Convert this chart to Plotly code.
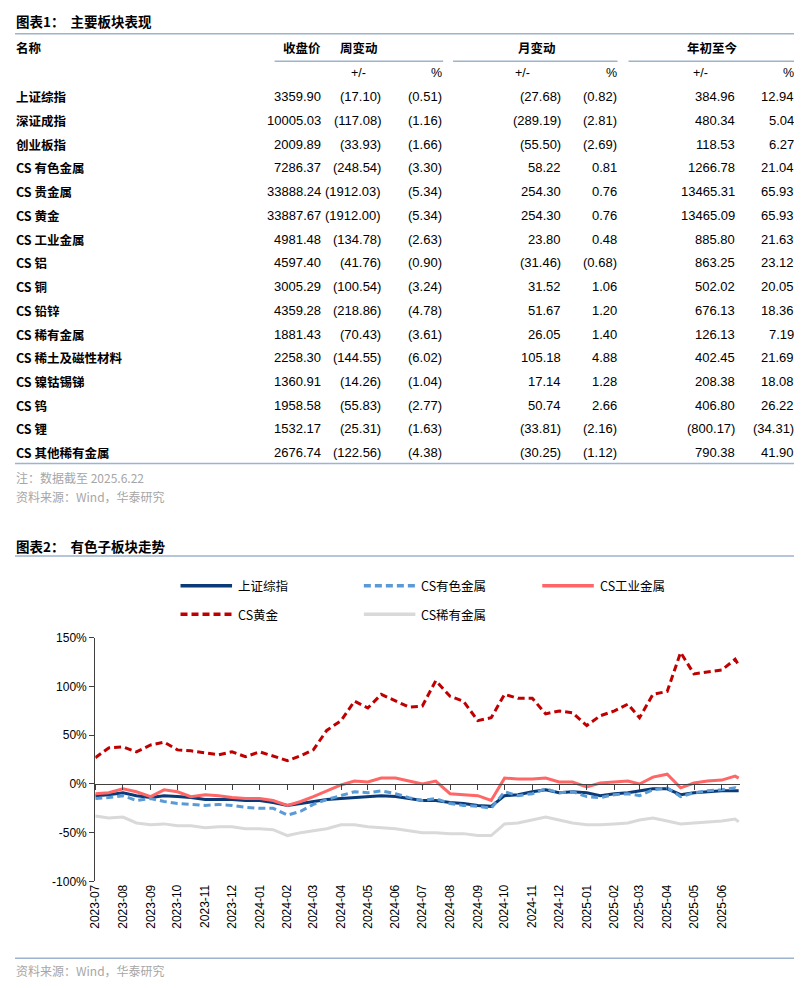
"""主要板块表现表格 + 有色子板块走势图 (Plotly)."""

import plotly.graph_objects as go

# 页面 body 默认 8px 边距, 图幅略缩以免溢出
FIG_W, FIG_H = 786, 972
OFF = 8

# ---- 表1 数据 ----
names = ["上证综指", "深证成指", "创业板指", "CS 有色金属", "CS 贵金属", "CS 黄金", "CS 工业金属",
         "CS 铝", "CS 铜", "CS 铅锌", "CS 稀有金属", "CS 稀土及磁性材料", "CS 镍钴锡锑",
         "CS 钨", "CS 锂", "CS 其他稀有金属"]
close = ["3359.90", "10005.03", "2009.89", "7286.37", "33888.24", "33887.67", "4981.48",
         "4597.40", "3005.29", "4359.28", "1881.43", "2258.30", "1360.91", "1958.58",
         "1532.17", "2676.74"]
wk_chg = ["(17.10)", "(117.08)", "(33.93)", "(248.54)", "(1912.03)", "(1912.00)", "(134.78)",
          "(41.76)", "(100.54)", "(218.86)", "(70.43)", "(144.55)", "(14.26)", "(55.83)",
          "(25.31)", "(122.56)"]
wk_pct = ["(0.51)", "(1.16)", "(1.66)", "(3.30)", "(5.34)", "(5.34)", "(2.63)", "(0.90)",
          "(3.24)", "(4.78)", "(3.61)", "(6.02)", "(1.04)", "(2.77)", "(1.63)", "(4.38)"]
mo_chg = ["(27.68)", "(289.19)", "(55.50)", "58.22", "254.30", "254.30", "23.80", "(31.46)",
          "31.52", "51.67", "26.05", "105.18", "17.14", "50.74", "(33.81)", "(30.25)"]
mo_pct = ["(0.82)", "(2.81)", "(2.69)", "0.81", "0.76", "0.76", "0.48", "(0.68)", "1.06",
          "1.20", "1.40", "4.88", "1.28", "2.66", "(2.16)", "(1.12)"]
ytd_chg = ["384.96", "480.34", "118.53", "1266.78", "13465.31", "13465.09", "885.80",
           "863.25", "502.02", "676.13", "126.13", "402.45", "208.38", "406.80", "(800.17)",
           "790.38"]
ytd_pct = ["12.94", "5.04", "6.27", "21.04", "65.93", "65.93", "21.63", "23.12", "20.05",
           "18.36", "7.19", "21.69", "18.08", "26.22", "(34.31)", "41.90"]

# ---- 图2 数据 (半月采样, 累计涨跌幅 %) ----
dates = []
for yr, mo in [(2023, m) for m in range(7, 13)] + [(2024, m) for m in range(1, 13)] + \
        [(2025, m) for m in range(1, 7)]:
    dates += [f"{yr}-{mo:02d}-01", f"{yr}-{mo:02d}-16"]
dates.append("2025-06-20")

sse = [-12, -11, -9, -12, -14, -12, -13, -14, -16, -16, -16, -17, -17, -19, -22, -20, -18, -16,
       -15, -14, -13, -12, -13, -15, -17, -17, -19, -20, -22, -23, -12, -11, -8, -6, -9, -8, -9,
       -12, -10, -9, -7, -5, -5, -11, -9, -8, -7, -7, -7]
nonferrous = [-15, -14, -12, -17, -15, -18, -20, -21, -22, -21, -22, -24, -25, -25, -32, -28, -21,
              -16, -12, -8, -9, -7, -10, -14, -17, -15, -20, -22, -23, -25, -8, -12, -10, -5, -9,
              -8, -13, -14, -11, -10, -12, -6, -4, -13, -9, -7, -6, -4, -6]
industrial = [-10, -9, -5, -8, -13, -6, -8, -13, -11, -12, -14, -15, -15, -17, -22, -18, -13, -7,
              -1, 3, 2, 6, 6, 3, 0, 3, -10, -11, -12, -17, 6, 5, 5, 6, 2, 2, -3, 1, 2, 3, 0, 7,
              10, -4, 1, 3, 4, 8, 6]
gold = [27, 37, 38, 33, 40, 43, 35, 34, 32, 30, 33, 28, 33, 29, 24, 29, 35, 55, 65, 85, 78, 92,
        85, 79, 80, 106, 90, 85, 65, 68, 92, 88, 88, 72, 75, 73, 60, 70, 75, 82, 68, 92, 95, 135,
        113, 115, 117, 128, 122]
rare = [-33, -35, -34, -40, -42, -41, -43, -43, -45, -44, -44, -46, -46, -47, -53, -50, -48, -46,
        -42, -42, -44, -45, -46, -48, -50, -50, -51, -51, -53, -53, -41, -40, -37, -34, -37, -40,
        -42, -42, -41, -40, -37, -35, -38, -41, -40, -39, -38, -36, -39]
series_names = ["上证综指", "CS有色金属", "CS工业金属", "CS黄金", "CS稀有金属"]
y_ticks = [-100, -50, 0, 50, 100, 150]

colors = ["#0B3A78", "#5B9BD5", "#FF6666", "#C00000", "#D9D9D9"]
dashes = ["solid", "7px,4px", "solid", "7px,4px", "solid"]

CJK = "Noto Sans CJK SC"
NUM = "Liberation Sans"
RULE = "#9DB3CE"


def px(x):
    return (x - OFF) / FIG_W


def py(y):
    return 1 - (y - OFF) / FIG_H


fig = go.Figure()
for name, vals, c, d in zip(series_names, [sse, nonferrous, industrial, gold, rare], colors, dashes):
    fig.add_trace(go.Scatter(x=dates, y=vals, mode="lines", name=name,
                             line=dict(color=c, width=3, dash=d), showlegend=False))

ann = []
shapes = []


def text(x, y, s, anchor="left", size=12.5, color="#000", bold=False, font=CJK):
    if bold:
        s = f"<b>{s}</b>"
    ann.append(dict(x=px(x), y=py(y), xref="paper", yref="paper", text=s, showarrow=False,
                    xanchor=anchor, yanchor="middle", borderpad=0,
                    font=dict(family=font, size=size, color=color)))


def hline(x0, x1, y, color=RULE, width=1.5):
    shapes.append(dict(type="line", xref="paper", yref="paper", x0=px(x0), x1=px(x1),
                       y0=py(y), y1=py(y), line=dict(color=color, width=width)))


# ---- 表1 ----
text(8, 14, "图表1：  主要板块表现", size=13.5, bold=True)
hline(8, 795, 27)
text(8, 41, "名称", bold=True)
text(318, 41, "收盘价", anchor="right", bold=True)
for cx, lab in [(355, "周变动"), (535, "月变动"), (712, "年初至今")]:
    text(cx, 41, lab, anchor="center", bold=True)
for x0, x1 in [(270, 440), (450, 616), (627, 795)]:
    hline(x0, x1, 55)
for cx, lab in [(355, "+/-"), (520, "+/-"), (700, "+/-")]:
    text(cx, 67, lab, anchor="center", font=NUM)
for rx in [440, 616, 795]:
    text(rx, 67, "%", anchor="right", font=NUM)

col_right = [318, 378, 440, 560, 616, 735, 795]
for i, nm in enumerate(names):
    y = 91 + i * 24.07
    if nm.startswith("CS "):
        text(8, y, "<b>CS</b> " + f"<b>{nm[3:]}</b>", font=CJK)
    else:
        text(8, y, nm, bold=True)
    for rx, col in zip(col_right, [close, wk_chg, wk_pct, mo_chg, mo_pct, ytd_chg, ytd_pct]):
        text(rx, y, col[i], anchor="right", font=NUM, size=13)
hline(8, 795, 463)
text(8, 477, "注：数据截至 2025.6.22", color="#A6A6A6", size=12)
text(8, 497, "资料来源：Wind，华泰研究", color="#A6A6A6", size=12)

# ---- 图2 ----
text(8, 547, "图表2：  有色子板块走势", size=13.5, bold=True)
hline(8, 795, 557)
legend_pos = [(175, 587), (360, 587), (540, 587), (175, 616), (360, 616)]
for (lx, ly), nm, c, d in zip(legend_pos, series_names, colors, dashes):
    shapes.append(dict(type="line", xref="paper", yref="paper", x0=px(lx), x1=px(lx + 52),
                       y0=py(ly), y1=py(ly), line=dict(color=c, width=3.5, dash=d)))
    text(lx + 57, ly, nm, size=12.5)
hline(8, 795, 965)
text(8, 977, "资料来源：Wind，华泰研究", color="#A6A6A6", size=12)

x_dom = [px(89), px(740)]
fig.update_layout(
    width=FIG_W, height=FIG_H, margin=dict(l=0, r=0, t=0, b=0),
    paper_bgcolor="white", plot_bgcolor="white",
    annotations=ann, shapes=shapes,
    xaxis=dict(domain=x_dom, range=["2023-07-01", "2025-06-22"],
               dtick="M1", tick0="2023-07-01", tickformat="%Y-%m", tickangle=-90,
               showgrid=False, showline=False, ticks="", zeroline=False,
               tickfont=dict(family=NUM, size=12, color="#000")),
    xaxis2=dict(domain=x_dom, range=["2023-07-01", "2025-06-22"], overlaying="x",
                anchor="free", position=py(788), dtick="M1", tick0="2023-07-01",
                showticklabels=False, showgrid=False, showline=True, linecolor="#404040",
                linewidth=1.2, ticks="outside", ticklen=5, tickcolor="#404040"),
    yaxis=dict(domain=[py(887), py(640)], range=[-100, 150], tickvals=y_ticks,
               ticktext=[f"{v}%" for v in y_ticks], showgrid=False, zeroline=False,
               showline=True, linecolor="#404040", linewidth=1.2, ticks="outside", ticklen=5,
               tickcolor="#404040", tickfont=dict(family=NUM, size=12, color="#000")),
)
# 让 xaxis2 显示：加一个空的 trace
fig.add_trace(go.Scatter(x=[dates[0]], y=[None], xaxis="x2", showlegend=False, hoverinfo="skip"))

fig.write_html("out.html")
